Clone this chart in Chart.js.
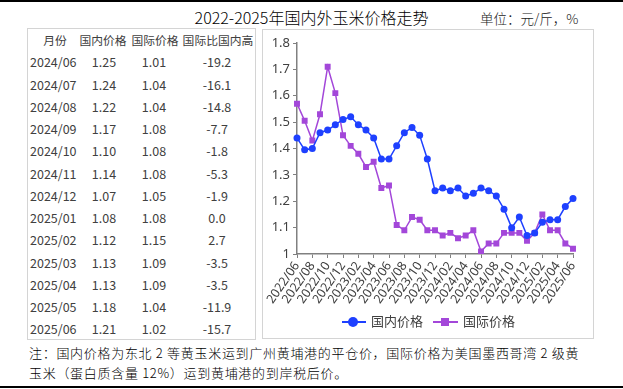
<!DOCTYPE html>
<html>
<head>
<meta charset="utf-8">
<script src="https://cdn.jsdelivr.net/npm/chart.js@4.4.1/dist/chart.umd.min.js"></script>
<style>
  body { margin: 0; background: #fff; }
  #page { position: relative; width: 623px; height: 389px; overflow: hidden; background: #fff;
          font-family: "Noto Sans CJK SC", "Noto Sans", sans-serif; }
  .rule { position: absolute; left: 0; width: 623px; height: 2px; background: #000; }
  .box { position: absolute; border: 1px solid #d4d4d4; box-sizing: border-box; }
  .cell { position: absolute; font-size: 12.5px; color: #404040; line-height: 16px; white-space: nowrap; }
  .c { text-align: center; width: 80px; }
  .hd { font-size: 11.8px; }
  #title { position: absolute; left: 0; width: 623px; top: 5px; text-align: center; font-size: 16px; color: #000; font-weight: 300; }
  #unit { position: absolute; left: 480px; top: 8px; font-size: 13.5px; color: #222; font-weight: 300; }
  .note { position: absolute; left: 29px; font-size: 13px; color: #000; letter-spacing: 0.7px; white-space: nowrap;
          font-weight: 300; }
  .lg-line { position: absolute; height: 2px; }
  .lg-text { position: absolute; font-size: 13px; color: #404040; line-height: 16px; }
</style>
</head>
<body>
<div id="page">
  <div class="rule" style="top:0"></div>
  <div class="rule" style="top:386px"></div>
  <div id="title">2022-2025年国内外玉米价格走势</div>
  <div id="unit">单位：元/斤，%</div>

  <div class="box" id="tableBox" style="left:27px; top:28px; width:229px; height:312px;"></div>
  <div class="box" style="left:262px; top:29px; width:332px; height:310px;"></div>
  <canvas id="chartOne" style="position:absolute; left:263px; top:30px;" width="330" height="308"></canvas>

  <div class="lg-line" style="left:342px; top:321px; width:24px; background:#1e40ff;"></div>
  <div style="position:absolute; left:348px; top:317px; width:10px; height:10px; border-radius:50%; background:#1e40ff;"></div>
  <div class="lg-text" style="left:371px; top:313px;">国内价格</div>
  <div class="lg-line" style="left:433px; top:321px; width:25px; background:#a347d9;"></div>
  <div style="position:absolute; left:441px; top:318px; width:8px; height:8px; background:#a347d9;"></div>
  <div class="lg-text" style="left:463px; top:313px;">国际价格</div>

  <div class="note" style="top:343px;">注：国内价格为东北 2 等黄玉米运到广州黄埔港的平仓价，国际价格为美国墨西哥湾 2 级黄</div>
  <div class="note" style="top:363px;">玉米（蛋白质含量 12%）运到黄埔港的到岸税后价。</div>
</div>

<script>
const months = [
  '2022/06','2022/07','2022/08','2022/09','2022/10','2022/11','2022/12',
  '2023/01','2023/02','2023/03','2023/04','2023/05','2023/06','2023/07','2023/08','2023/09','2023/10','2023/11','2023/12',
  '2024/01','2024/02','2024/03','2024/04','2024/05','2024/06','2024/07','2024/08','2024/09','2024/10','2024/11','2024/12',
  '2025/01','2025/02','2025/03','2025/04','2025/05','2025/06'
];

const domesticPrice = [
  1.44, 1.395, 1.40, 1.46, 1.47, 1.49, 1.51,
  1.52, 1.49, 1.47, 1.44, 1.36, 1.36, 1.41, 1.46, 1.48, 1.45, 1.36, 1.24,
  1.25, 1.24, 1.25, 1.22, 1.23, 1.25, 1.24, 1.22, 1.17, 1.10, 1.14, 1.07,
  1.08, 1.12, 1.13, 1.13, 1.18, 1.21
];

const intlPrice = [
  1.57, 1.505, 1.43, 1.53, 1.71, 1.61, 1.45,
  1.41, 1.38, 1.33, 1.35, 1.25, 1.26, 1.11, 1.09, 1.14, 1.13, 1.09, 1.09,
  1.07, 1.08, 1.06, 1.07, 1.09, 1.01, 1.04, 1.04, 1.08, 1.08, 1.08, 1.05,
  1.08, 1.15, 1.09, 1.09, 1.04, 1.02
];

// table on the left
const tableHeader = ['月份', '国内价格', '国际价格', '国际比国内高'];
const tableMonths = ['2024/06','2024/07','2024/08','2024/09','2024/10','2024/11','2024/12','2025/01','2025/02','2025/03','2025/04','2025/05','2025/06'];
const tableDomestic = ['1.25','1.24','1.22','1.17','1.10','1.14','1.07','1.08','1.12','1.13','1.13','1.18','1.21'];
const tableIntl = ['1.01','1.04','1.04','1.08','1.08','1.08','1.05','1.08','1.15','1.09','1.09','1.04','1.02'];
const tableGap = ['-19.2','-16.1','-14.8','-7.7','-1.8','-5.3','-1.9','0.0','2.7','-3.5','-3.5','-11.9','-15.7'];

const page = document.getElementById('page');

function addCell(text, x, y, centered, header) {
    const d = document.createElement('div');
    d.className = (centered ? 'cell c' : 'cell') + (header ? ' hd' : '');
    d.textContent = text;
    d.style.left = (centered ? x - 40 : x) + 'px';
    d.style.top = (y - 8) + 'px';
    page.appendChild(d);
}

const rowStep = 22.25;
addCell(tableHeader[0], 55, 40, true, true);
addCell(tableHeader[1], 103, 40, true, true);
addCell(tableHeader[2], 155, 40, true, true);
addCell(tableHeader[3], 218, 40, true, true);
for (let i = 0; i < tableMonths.length; i++) {
    const y = 40 + rowStep * (i + 1);
    addCell(tableMonths[i], 30, y, false);
    addCell(tableDomestic[i], 104, y, true);
    addCell(tableIntl[i], 154, y, true);
    addCell(tableGap[i], 217, y, true);
}

const firstChart = document.getElementById('chartOne').getContext('2d');

let lineChart = new Chart(firstChart, {
    type: 'line',
    data: {
        labels: months,
        datasets: [{
            label: '国内价格',
            data: domesticPrice,
            borderColor: '#1e40ff',
            backgroundColor: '#1e40ff',
            borderWidth: 1.5,
            pointStyle: 'circle',
            pointRadius: 3.5,
            pointBorderWidth: 0,
            tension: 0
        }, {
            label: '国际价格',
            data: intlPrice,
            borderColor: '#a347d9',
            backgroundColor: '#a347d9',
            borderWidth: 1.5,
            pointStyle: 'rect',
            pointRadius: 4.2,
            pointBorderWidth: 0,
            tension: 0
        }]
    },
    options: {
        responsive: false,
        animation: false,
        layout: {
            padding: { top: 13, right: 20, left: 0, bottom: 0 }
        },
        plugins: {
            legend: { display: false },
            tooltip: { enabled: false }
        },
        scales: {
            x: {
                offset: false,
                afterFit: function (scale) { scale.height = 84; },
                grid: {
                    drawOnChartArea: false,
                    drawTicks: true,
                    tickLength: 4,
                    color: '#808080'
                },
                border: { color: '#808080', width: 1.5 },
                ticks: {
                    autoSkip: false,
                    minRotation: 55,
                    maxRotation: 55,
                    padding: 1,
                    color: '#404040',
                    font: { family: 'Noto Sans', size: 12.5 },
                    callback: function (value, index) {
                        return index % 2 === 0 ? months[index] : null;
                    }
                }
            },
            y: {
                min: 1,
                max: 1.8,
                afterFit: function (scale) { scale.width = 34; },
                grid: {
                    drawOnChartArea: false,
                    drawTicks: true,
                    tickLength: 4,
                    color: '#808080'
                },
                border: { color: '#808080', width: 1.5 },
                ticks: {
                    stepSize: 0.1,
                    padding: 3,
                    color: '#404040',
                    font: { family: 'Noto Sans', size: 13 },
                    callback: function (value) {
                        return String(Number(value.toFixed(1)));
                    }
                }
            }
        }
    }
});
</script>
</body>
</html>
